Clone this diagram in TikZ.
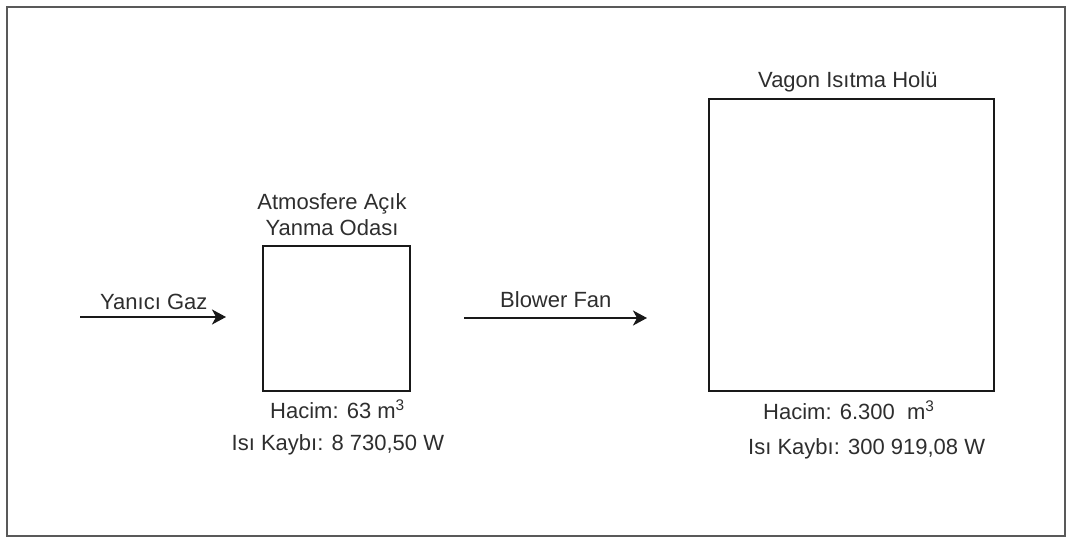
\documentclass[tikz,border=0pt]{standalone}
\usepackage{fontspec}
\setmainfont{Liberation Sans}
\usetikzlibrary{arrows.meta}
\begin{document}
\begin{tikzpicture}[x=1pt,y=-1pt,
  room/.style={draw=black!90, line width=2pt, inner sep=0pt},
  lbl/.style={font=\fontsize{22}{25.7}\selectfont, text=black!82, inner sep=0pt},
  flow/.style={draw=black!90, line width=2pt, -{Stealth[length=14pt,width=15pt,inset=4pt]}},
  frame/.style={draw=black!65, line width=1.8pt}]
\useasboundingbox (0,0) rectangle (1067,537);
% outer frame
\draw[frame] (7,7) rectangle (1065,536);
% rooms
\node[room, minimum width=147pt, minimum height=145pt] (oda) at (336.5,318.5) {};
\node[room, minimum width=285pt, minimum height=292pt] (hol) at (851.5,245) {};
% titles
\node[lbl, align=center, anchor=south] (odaT) at (332,236) {Atmosfere Açık\\Yanma Odası};
\node[lbl, anchor=base west] (holT) at (758,88) {Vagon Isıtma Holü};
% values
\node[lbl, anchor=base west] (odaV) at (270,418) {Hacim: 63 m\textsuperscript{3}};
\node[lbl, anchor=base west] (odaQ) at (231.5,450) {Isı Kaybı: 8 730,50 W};
\node[lbl, anchor=base west] (holV) at (763,419.3) {Hacim: 6.300\ \ m\textsuperscript{3}};
\node[lbl, anchor=base west] (holQ) at (748,454) {Isı Kaybı: 300 919,08 W};
% flows
\coordinate (g1) at (80,317);
\coordinate (g2) at (226,317);
\draw[flow] (g1) -- (g2);
\node[lbl, anchor=base west] (gT) at (100,309) {Yanıcı Gaz};
\coordinate (b1) at (464,318);
\coordinate (b2) at (647,318);
\draw[flow] (b1) -- (b2);
\node[lbl, anchor=base west] (bT) at (500,307.3) {Blower Fan};
\end{tikzpicture}
\end{document}
